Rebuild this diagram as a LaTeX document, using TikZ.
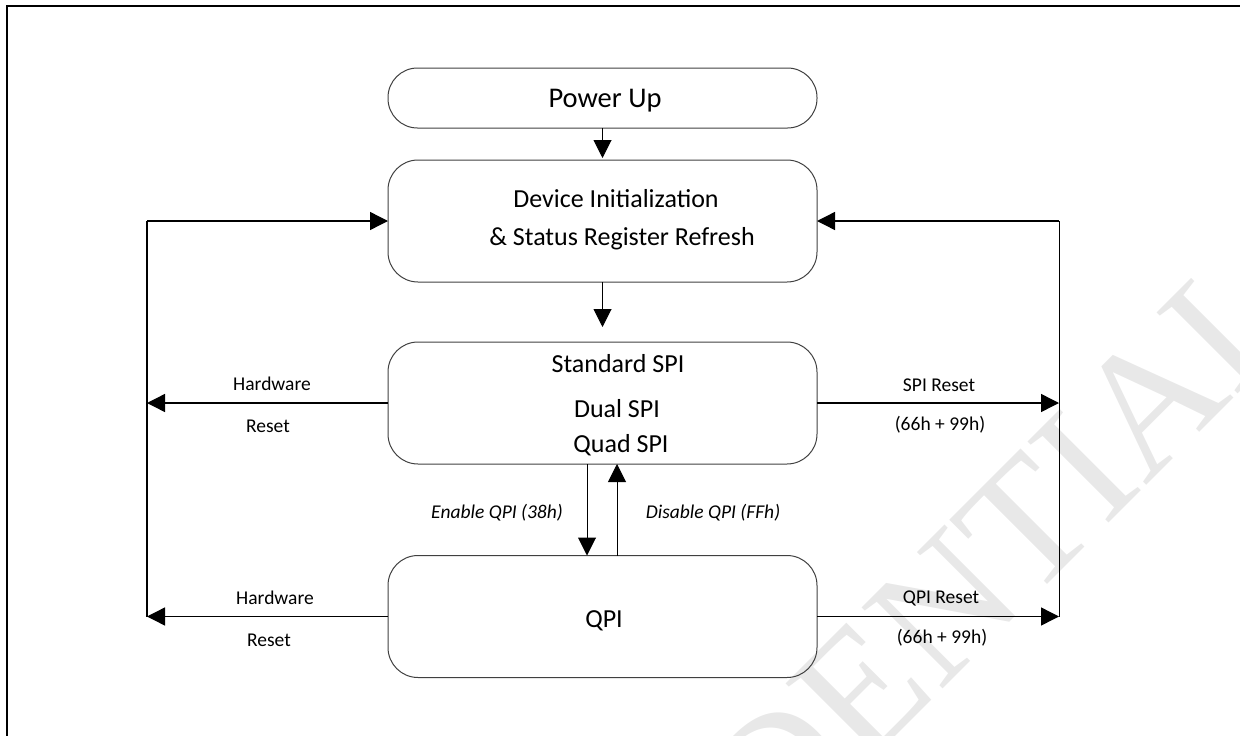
\documentclass[tikz,border=0pt]{standalone}
\usepackage{fontspec}
\setmainfont{Carlito}
\newfontfamily\wmfont{Liberation Serif}
\usetikzlibrary{arrows.meta}
\begin{document}
\begin{tikzpicture}[x=1pt,y=-1pt,
  box/.style={draw=black!75, line width=1pt, rounded corners=30pt, minimum width=429pt, minimum height=122pt, inner sep=0pt, outer sep=0pt},
  pubox/.style={box, minimum height=60pt, rounded corners=29.5pt},
  bigtxt/.style={font=\fontsize{26}{30}\selectfont, inner sep=0pt, anchor=base},
  putxt/.style={font=\fontsize{28.5}{32}\selectfont, inner sep=0pt, anchor=base},
  smalltxt/.style={font=\fontsize{19.5}{23}\selectfont, inner sep=0pt, anchor=base},
  ittxt/.style={font=\fontsize{19.5}{23}\selectfont\itshape, inner sep=0pt, anchor=base},
  tip/.style={-{Triangle[length=18pt,width=18pt]}},
  hline/.style={line width=1.4pt, black},
  vline/.style={line width=1pt, black},
  lvline/.style={line width=1.7pt, black},
  rvline/.style={line width=1pt, black}
]
\useasboundingbox (0,0) rectangle (1240,736);
% watermark
\node[rotate=45, anchor=base, text=black!9, inner sep=0pt, font=\wmfont\fontsize{175}{175}\selectfont] (wm) at (857,775) {CONFIDENTIAL};
% frame
\draw[line width=2pt] (6.5,745) -- (6.5,6) -- (1250,6);
% boxes
\node[pubox] (pu) at (602.5,98) {};
\node[box] (di) at (602.5,221) {};
\node[box] (spi) at (602.5,403) {};
\node[box] (qpi) at (602.5,616.5) {};
% texts
\node[putxt] (putext) at (605,107) {Power Up};
\node[bigtxt] (ditext1) at (616,207) {Device Initialization};
\node[bigtxt] (ditext2) at (622,245) {\&\ Status Register Refresh};
\node[bigtxt] (spitext1) at (618,372) {Standard SPI};
\node[bigtxt] (spitext2) at (617,417) {Dual SPI};
\node[bigtxt] (spitext3) at (621,452) {Quad SPI};
\node[bigtxt] (qpitext) at (604,627) {QPI};
% side coordinates
\coordinate (lx) at (147,0);
\coordinate (rx) at (1059,0);
% left loop
\draw[lvline] (lx |- qpi.west) -- (lx |- di.west);
\draw[hline,tip] (lx |- di.west) -- (di.west);
\draw[hline,tip] (spi.west) -- (lx |- spi.west);
\draw[hline,tip] (qpi.west) -- (lx |- qpi.west);
% right loop
\draw[rvline] (rx |- qpi.east) -- (rx |- di.east);
\draw[hline,tip] (rx |- di.east) -- (di.east);
\draw[hline,tip] (spi.east) -- (rx |- spi.east);
\draw[hline,tip] (qpi.east) -- (rx |- qpi.east);
% vertical arrows
\draw[vline,tip,shorten >=2pt] (pu.south) -- (di.north);
\draw[vline,tip,shorten >=15pt] (di.south) -- (spi.north);
\draw[vline,tip] ([xshift=-15.5pt]spi.south) -- ([xshift=-15.5pt]qpi.north);
\draw[vline,tip] ([xshift=14.5pt]qpi.north) -- ([xshift=14.5pt]spi.south);
% labels
\node[smalltxt] (hw1) at (272,390) {Hardware};
\node[smalltxt] (rs1) at (268,432) {Reset};
\node[smalltxt] (hw2) at (275,604) {Hardware};
\node[smalltxt] (rs2) at (269,646) {Reset};
\node[smalltxt] (sr1) at (939,391) {SPI Reset};
\node[smalltxt] (sr2) at (940,430) {(66h + 99h)};
\node[smalltxt] (qr1) at (941,603) {QPI Reset};
\node[smalltxt] (qr2) at (942,643) {(66h + 99h)};
\node[ittxt] (en) at (497,518) {Enable QPI (38h)};
\node[ittxt] (dis) at (713,518) {Disable QPI (FFh)};
\end{tikzpicture}
\end{document}
